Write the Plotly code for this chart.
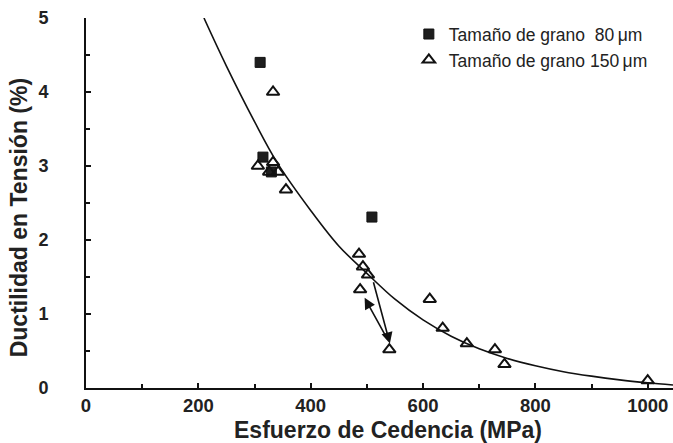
import plotly.graph_objects as go

# Data
sq_x = [310, 315, 330, 509]
sq_y = [4.4, 3.12, 2.92, 2.31]

tri_x = [333, 306, 333, 326, 342, 356, 486, 493, 502, 488, 540, 612, 635, 678, 728, 745, 1000, 817]
tri_y = [4.0, 3.0, 3.05, 2.92, 2.92, 2.68, 1.81, 1.64, 1.53, 1.33, 0.52, 1.2, 0.81, 0.6, 0.52, 0.32, 0.1, -0.07]

curve_x = [210, 250, 300, 340, 400, 450, 500, 550, 600, 650, 700, 750, 800, 850, 900, 950, 1000, 1045]
curve_y = [5.0, 4.35, 3.6, 3.05, 2.4, 1.92, 1.55, 1.2, 0.92, 0.7, 0.53, 0.4, 0.3, 0.22, 0.16, 0.11, 0.07, 0.04]

# arrows (tail -> head)
arrow_tail = [(511, 1.45), (538, 0.64)]
arrow_head = [(541, 0.6), (496, 1.22)]

x_ticks = [0, 200, 400, 600, 800, 1000]
y_ticks = [0, 1, 2, 3, 4, 5]

FONT = "Liberation Sans, Arial, Helvetica, sans-serif"

fig = go.Figure()
fig.add_trace(go.Scatter(x=curve_x, y=curve_y, mode="lines", line=dict(color="#111", width=1.6, shape="spline"),
                         showlegend=False, hoverinfo="skip"))
fig.add_trace(go.Scatter(x=sq_x, y=sq_y, mode="markers", name="Tamaño de grano\u00a0\u00a080\u2009μm",
                         legendgroup="a",
                         marker=dict(symbol="square", size=10, color="#1e1e1e", line=dict(color="#111", width=1))))
fig.add_trace(go.Scatter(x=tri_x, y=tri_y, mode="markers", name="Tamaño de grano 150\u2009μm", cliponaxis=False,
                         legendgroup="b",
                         marker=dict(symbol="triangle-up-open", size=11, color="#111", line=dict(color="#111", width=2))))

anns = []
for (tx, ty), (hx, hy) in zip(arrow_tail, arrow_head):
    anns.append(dict(x=hx, y=hy, ax=tx, ay=ty, xref="x", yref="y", axref="x", ayref="y",
                     showarrow=True, arrowhead=2, arrowsize=1.4, arrowwidth=1.6, arrowcolor="#111", text=""))
anns.append(dict(text="<b>Esfuerzo de Cedencia (MPa)</b>", xref="paper", yref="paper", x=0.514, y=-0.114,
                 showarrow=False, font=dict(size=23, color="#222", family=FONT),
                 xanchor="center", yanchor="middle"))
anns.append(dict(text="<b>Ductilidad en Tensión (%)</b>", xref="paper", yref="paper", x=-0.115, y=0.46,
                 showarrow=False, textangle=-90, font=dict(size=23, color="#222", family=FONT),
                 xanchor="center", yanchor="middle"))

fig.update_layout(
    width=673, height=443,
    margin=dict(l=86, r=0, t=18, b=55),
    paper_bgcolor="white", plot_bgcolor="white",
    font=dict(family=FONT, color="#222"),
    annotations=anns,
    legend=dict(x=0.55, y=1.005, xanchor="left", yanchor="top", bgcolor="rgba(0,0,0,0)",
                font=dict(size=17.5, color="#222"), itemwidth=30, tracegroupgap=0),
    xaxis=dict(range=[0, 1045], tickvals=x_ticks, ticktext=[f"<b>{v}</b>" for v in x_ticks],
               showline=True, linecolor="#111", linewidth=2, ticks="inside", ticklen=5, tickcolor="#111",
               tickwidth=1.5, showgrid=False, zeroline=False, tickfont=dict(size=18.5, color="#222"),
               minor=dict(tickvals=[100, 300, 500, 700, 900], ticks="inside", ticklen=4, tickcolor="#111")),
    yaxis=dict(range=[0, 5], tickvals=y_ticks, ticktext=[f"<b>{v}</b>" for v in y_ticks],
               showline=True, linecolor="#111", linewidth=2, ticks="inside", ticklen=5, tickcolor="#111",
               tickwidth=1.5, showgrid=False, zeroline=False, tickfont=dict(size=18, color="#222"),
               ticklabelstandoff=32,
               minor=dict(tickvals=[0.5, 1.5, 2.5, 3.5, 4.5], ticks="inside", ticklen=4, tickcolor="#111")),
)
fig.write_html("out.html")
